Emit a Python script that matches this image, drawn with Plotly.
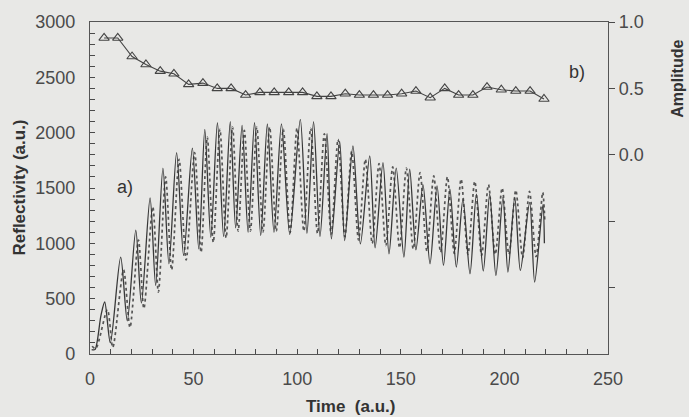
import plotly.graph_objects as go

solid_t = [0.8, 2.4, 5.3, 7.1, 9.8, 14.8, 18.0, 22.1, 24.8, 29.0, 31.7, 35.2, 38.1, 41.8, 45.2, 49.4,
           52.5, 55.4, 58.3, 61.5, 64.5, 67.7, 70.3, 73.4, 76.3, 79.4, 82.4, 85.6, 88.8, 92.4, 96.4,
           101.5, 104.7, 107.9, 111.0, 114.4, 116.5, 120.5, 122.9, 126.9, 130.5, 135.0, 137.6, 141.4,
           144.3, 147.8, 151.5, 154.3, 157.3, 160.7, 164.1, 167.5, 170.6, 173.7, 176.8, 180.0, 183.4,
           186.5, 189.8, 192.9, 195.9, 199.3, 201.7, 205.0, 207.7, 212.2, 214.6, 218.6, 219.3]
solid_r = [40, 40, 350, 470, 100, 875, 300, 1120, 460, 1410, 620, 1680, 815, 1820, 890, 1860,
           950, 2030, 1055, 2090, 1060, 2100, 1140, 2065, 1100, 2090, 1070, 2080, 1100, 2080, 1080,
           2120, 1090, 2100, 1060, 1990, 1040, 1920, 1025, 1880, 995, 1790, 960, 1730,
           905, 1680, 875, 1670, 940, 1530, 815, 1520, 800, 1490, 785, 1400, 725,
           1445, 750, 1445, 710, 1415, 740, 1415, 755, 1370, 650, 1350, 1000]

# Reflectivity, simulated (dotted)
dotted_t = [1.0, 2.8, 8.4, 11.0, 16.2, 19.3, 23.4, 26.0, 30.3, 33.0, 36.5, 39.4, 43.0, 46.4, 50.5, 53.6,
            56.6, 59.5, 62.7, 65.7, 68.8, 71.5, 74.5, 77.4, 80.5, 83.5, 86.7, 89.9, 93.3, 96.6, 99.9,
            103.2, 106.5, 109.8, 113.1, 116.4, 119.7, 123.0, 126.3, 129.6, 132.9, 136.2, 139.5, 142.8,
            146.1, 149.4, 152.7, 156.0, 159.3, 162.6, 165.9, 169.2, 172.5, 175.8, 179.1, 182.4, 185.7,
            189.0, 192.3, 195.6, 198.9, 202.2, 205.5, 208.8, 212.1, 215.3, 218.5, 219.5]
dotted_r = [70, 50, 400, 60, 760, 240, 1030, 410, 1330, 560, 1600, 760, 1760, 850, 1820, 920,
            1960, 1010, 2030, 1050, 2050, 1110, 2020, 1110, 2050, 1100, 2050, 1110, 2030, 1100, 2040,
            1110, 2040, 1090, 1990, 1080, 1940, 1060, 1830, 1030, 1760, 1000, 1720, 980,
            1690, 960, 1680, 950, 1640, 930, 1610, 920, 1600, 910, 1580, 900, 1560,
            890, 1530, 900, 1500, 900, 1480, 870, 1470, 880, 1460, 1200]

# Amplitude (right axis)
amp_t = [6.8, 13.4, 20.3, 27.0, 33.9, 40.5, 47.6, 54.5, 61.4, 68.1, 75.1, 82.0, 88.9, 95.9, 102.6, 109.5,
         116.3, 123.2, 130.0, 136.8, 143.6, 150.4, 157.3, 164.2, 171.2, 177.9, 184.8, 191.6, 198.5,
         205.5, 212.4, 219.1]
amp_v = [0.88, 0.88, 0.74, 0.68, 0.63, 0.61, 0.53, 0.54, 0.50, 0.50, 0.45, 0.47, 0.47, 0.47, 0.47, 0.44,
         0.44, 0.46, 0.45, 0.45, 0.45, 0.46, 0.48, 0.43, 0.50, 0.45, 0.45, 0.51, 0.49, 0.48, 0.48, 0.42]

x_ticks = [0, 50, 100, 150, 200, 250]
y_ticks = [0, 500, 1000, 1500, 2000, 2500, 3000]
y2_ticks = [-1.0, -0.5, 0.0, 0.5, 1.0]
y2_labels = ["", "", "0.0", "0.5", "1.0"]

BG = "#e8e8e6"
INK = "#4a4a4a"
FONT = "Liberation Sans, Arial, sans-serif"

fig = go.Figure()
fig.add_trace(go.Scatter(x=dotted_t, y=dotted_r, mode="lines",
                         line=dict(color="#555555", width=1.7, dash="dot", shape="spline", smoothing=0.8),
                         showlegend=False))
fig.add_trace(go.Scatter(x=solid_t, y=solid_r, mode="lines",
                         line=dict(color="#383838", width=1.3, shape="spline", smoothing=0.8),
                         showlegend=False))
fig.add_trace(go.Scatter(x=amp_t, y=amp_v, mode="lines+markers", yaxis="y2",
                         line=dict(color="#444444", width=1.1),
                         marker=dict(symbol="triangle-up-open", size=9, color="#444444",
                                     line=dict(width=1.1, color="#444444")),
                         showlegend=False))

fig.update_layout(
    width=689, height=417,
    margin=dict(l=90, r=81, t=20, b=63),
    paper_bgcolor=BG, plot_bgcolor=BG,
    font=dict(family=FONT, size=18, color=INK),
    xaxis=dict(range=[0, 250], tickvals=x_ticks, ticks="inside", ticklen=5, tickcolor=INK,
               showline=True, linecolor="#555555", linewidth=1.2, mirror=True,
               showgrid=False, zeroline=False, ticklabelstandoff=8,
               minor=dict(dtick=10, ticks="inside", ticklen=5, tickcolor=INK, showgrid=False)),
    yaxis=dict(range=[0, 3000], tickvals=y_ticks, ticks="inside", ticklen=5, tickcolor=INK,
               showline=True, linecolor="#555555", linewidth=1.2,
               showgrid=False, zeroline=False, ticklabelstandoff=10,
               minor=dict(dtick=100, ticks="inside", ticklen=5, tickcolor=INK, showgrid=False)),
    yaxis2=dict(range=[-1.5, 1.0], overlaying="y", side="right", tickvals=y2_ticks, ticktext=y2_labels,
                ticks="outside", ticklen=6, tickcolor=INK, showline=True, linecolor="#555555",
                linewidth=1.2, showgrid=False, zeroline=False),
    annotations=[
        dict(text="<b>Reflectivity (a.u.)</b>", xref="paper", yref="paper", x=-0.138, y=0.5,
             textangle=-90, showarrow=False, font=dict(size=17, color="#333"), xanchor="center", yanchor="middle"),
        dict(text="<b>Time  (a.u.)</b>", xref="paper", yref="paper", x=0.503, y=-0.158,
             showarrow=False, font=dict(size=17, color="#333"), xanchor="center", yanchor="middle"),
        dict(text="<b>Amplitude</b>", xref="paper", yref="paper", x=1.134, y=0.83,
             textangle=-90, showarrow=False, font=dict(size=16, color="#333"), xanchor="center", yanchor="middle"),
        dict(text="a)", x=16.9, y=1510, xref="x", yref="y", showarrow=False,
             font=dict(size=18, color="#333")),
        dict(text="b)", x=235, y=2552, xref="x", yref="y", showarrow=False,
             font=dict(size=18, color="#333")),
    ],
)

fig.write_html("out.html", config={"displayModeBar": False},
               post_script="document.body.style.margin='0';document.body.style.background='#e8e8e6';")
